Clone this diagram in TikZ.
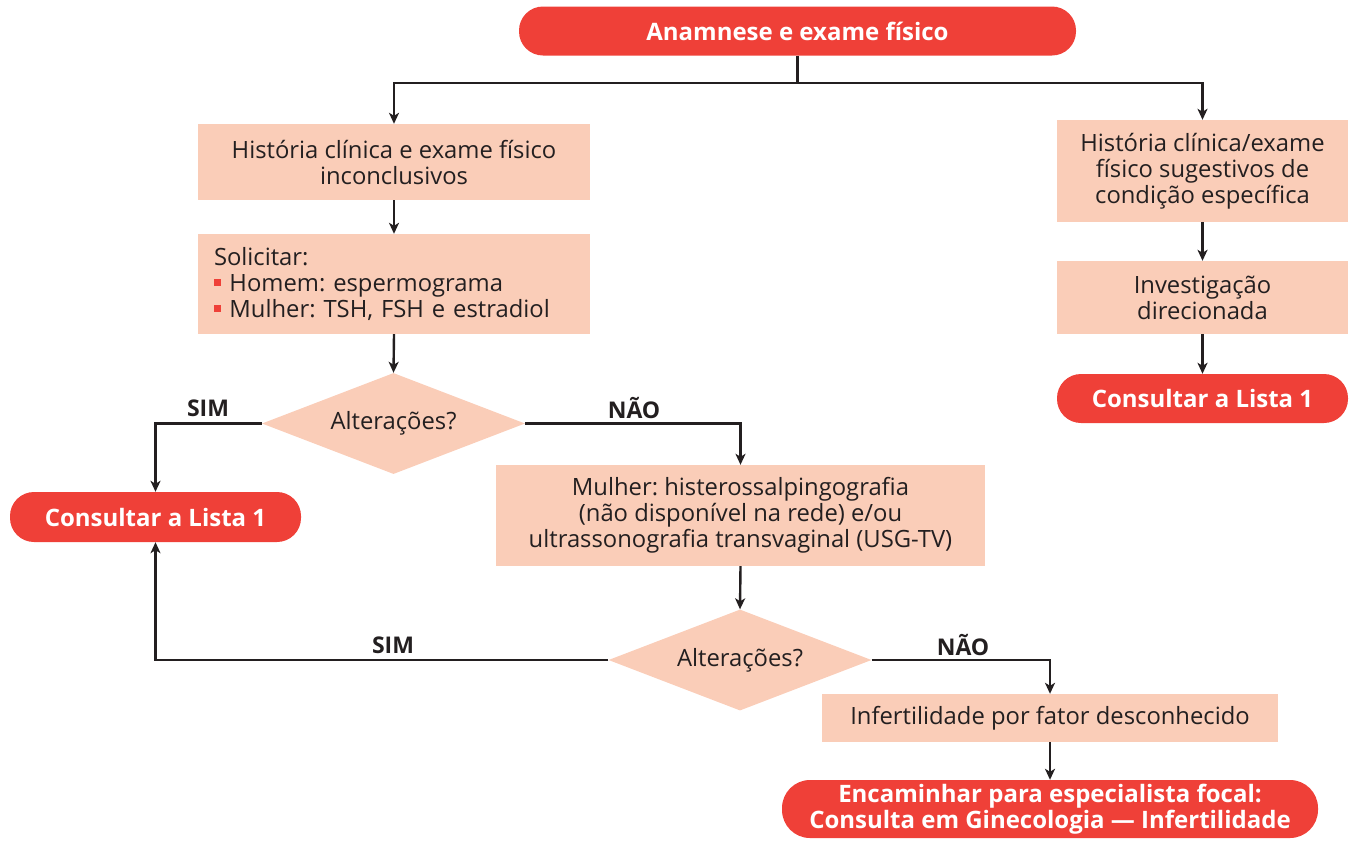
\documentclass[tikz,border=0pt]{standalone}
\usepackage{fontspec}
\setmainfont{Open Sans}
\usetikzlibrary{shapes.geometric,arrows.meta}
\definecolor{pillred}{HTML}{EF4038}
\definecolor{boxfill}{HTML}{FACDB8}
\definecolor{ink}{HTML}{231F20}
\frenchspacing
\tikzset{
  pill/.style={rounded corners=24pt, fill=pillred, text=white, font=\frenchspacing\bfseries\fontsize{24}{26}\selectfont, align=center, inner sep=0pt},
  boxnode/.style={fill=boxfill, text=ink, font=\frenchspacing\fontsize{23.8}{26}\selectfont, align=center, inner sep=0pt},
  decision/.style={diamond, fill=boxfill, text=ink, font=\fontsize{23.8}{26}\selectfont, inner sep=0pt, minimum width=263pt, minimum height=101pt, shape aspect=2.6},
  conn/.style={draw=ink, line width=2.4pt},
  arr/.style={conn, -{Stealth[length=11pt,width=10pt,inset=3pt]}},
  lbl/.style={text=ink, font=\bfseries\fontsize{23}{26}\selectfont, inner sep=0pt}
}
\newcommand{\redsq}{\textcolor{pillred}{\rule[0.22em]{0.3em}{0.3em}}\hspace{0.35em}}
\begin{document}
\begin{tikzpicture}[x=1pt,y=-1pt]
\useasboundingbox (0,0) rectangle (1351,841);

% left branch
\node[pill, minimum width=557pt, minimum height=49pt] (top) at (797.5,31) {Anamnese e exame físico};
\node[boxnode, minimum width=392pt, minimum height=76pt] (b1) at (394,162) {História clínica e exame físico\\inconclusivos};
\node[boxnode, minimum width=392pt, minimum height=100pt, align=left, text width=360pt] (b2) at (394,284)
  {Solicitar:\\\redsq Homem: espermograma\\\redsq Mulher: TSH, FSH e estradiol};
\node[decision] (d1) at (393.5,423.5) {Alterações?};
\node[pill, minimum width=291pt, minimum height=50pt] (p2) at (155.5,517) {Consultar a Lista 1};
\node[boxnode, minimum width=489pt, minimum height=101pt] (b3) at (740.5,515.5)
  {Mulher: histerossalpingografia\\(não disponível na rede) e/ou\\ultrassonografia transvaginal (USG-TV)};
\node[decision] (d2) at (740,660) {Alterações?};
\node[boxnode, minimum width=456pt, minimum height=48pt] (b4) at (1050,718) {Infertilidade por fator desconhecido};
\node[pill, minimum width=536pt, minimum height=58pt, rounded corners=28pt] (p4) at (1050,809)
  {Encaminhar para especialista focal:\\Consulta em Ginecologia — Infertilidade};

% right branch
\node[boxnode, minimum width=291pt, minimum height=102pt] (b5) at (1202.5,171) {História clínica/exame\\físico sugestivos de\\condição específica};
\node[boxnode, minimum width=291pt, minimum height=73pt] (b6) at (1202.5,297.5) {Investigação\\direcionada};
\node[pill, minimum width=291pt, minimum height=49pt] (p3) at (1202.5,398.5) {Consultar a Lista 1};

% connectors
\draw[conn] (top.south) -- ++(0,27) coordinate (split);
\draw[arr] (split) -| (b1.north);
\draw[arr] (split) -| (b5.north);
\draw[arr] (b1.south) -- (b2.north);
\draw[arr] (b2.south) -- (d1.north);
\draw[arr] (d1.west) -| (p2.north);
\draw[arr] (d1.east) -| (b3.north);
\draw[arr] (b3.south) -- (d2.north);
\draw[arr] (d2.west) -| (p2.south);
\draw[arr] (d2.east) -| (b4.north);
\draw[arr] (b4.south) -- (p4.north);
\draw[arr] (b5.south) -- (b6.north);
\draw[arr] (b6.south) -- (p3.north);

% branch labels
\node[lbl] (s1) at (208,408) {SIM};
\node[lbl] (n1) at (634,408) {NÃO};
\node[lbl] (s2) at (393,645) {SIM};
\node[lbl] (n2) at (963,645) {NÃO};
\end{tikzpicture}
\end{document}
